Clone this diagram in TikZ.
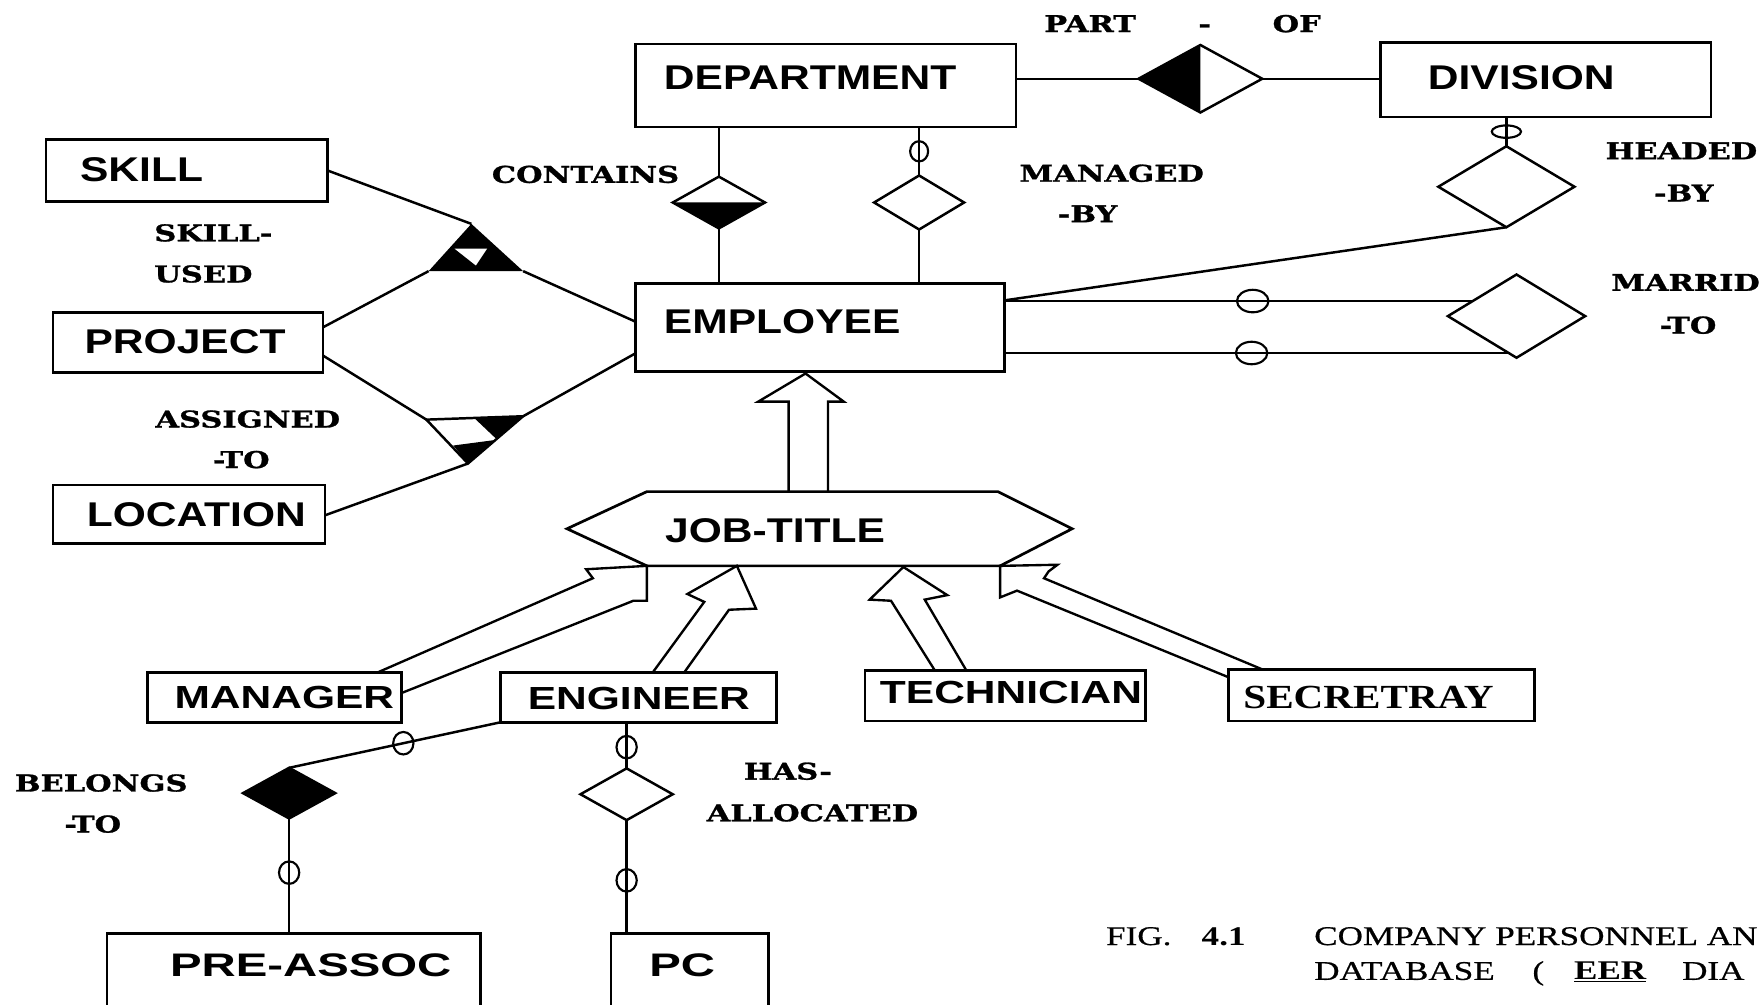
\documentclass[tikz,border=0pt]{standalone}
\usepackage{fontspec}
\usetikzlibrary{shapes.geometric,calc}
\newfontfamily\entfont[FakeStretch=1.24]{Liberation Sans Bold}
\newfontfamily\subfont[FakeStretch=1.33]{Liberation Sans Bold}
\newfontfamily\bigsubfont[FakeStretch=1.45]{Liberation Sans Bold}
\newfontfamily\lblfont[FakeStretch=1.32,FakeBold=1.2]{DejaVu Serif Bold}
\newfontfamily\secfont[FakeStretch=1.22]{Liberation Serif Bold}
\newfontfamily\capfont[FakeStretch=1.3,FakeBold=0.6]{Liberation Serif}
\newfontfamily\capbfont[FakeStretch=1.3]{Liberation Serif Bold}
\newcommand\entbox[5]{\node[ent, minimum width={(#4-#2)*1pt}, minimum height={(#5-#3)*1pt}] (#1) at ({(#2+#4)/2},{(#3+#5)/2}) {};}
\tikzset{
 ent/.style={draw, line width=2.4pt, rectangle, inner sep=0pt, outer sep=0pt},
 rel/.style={draw, line width=2.2pt, diamond, inner sep=0pt, outer sep=0pt},
 conn/.style={line width=2.2pt},
 opt/.style={line width=1.9pt},
 isa/.style={line width=2.1pt, line join=miter},
 etxt/.style={inner sep=0pt, anchor=base west, font=\entfont\fontsize{30.5}{30.5}\selectfont},
 stxt/.style={inner sep=0pt, anchor=base west, font=\subfont\fontsize{28.4}{28.4}\selectfont},
 btxt/.style={inner sep=0pt, anchor=base west, font=\bigsubfont\fontsize{29}{29}\selectfont},
 sectxt/.style={inner sep=0pt, anchor=base west, font=\secfont\fontsize{30}{30}\selectfont},
 ltxt/.style={inner sep=0pt, anchor=base west, font=\lblfont\fontsize{20.5}{20.5}\selectfont},
 ctxt/.style={inner sep=0pt, anchor=base west, font=\capfont\fontsize{24}{24}\selectfont},
 cbtxt/.style={inner sep=0pt, anchor=base west, font=\capbfont\fontsize{24}{24}\selectfont},
}
\begin{document}
\begin{tikzpicture}[x=1pt,y=-1pt]
\fill[white] (0,0) rectangle (1568,893);
\useasboundingbox (0,0) rectangle (1568,893);

% ---------- entities ----------
\entbox{dept}{565}{39}{903}{113}
\entbox{div}{1227}{38}{1521}{104}
\entbox{skill}{41}{124}{291}{179}
\entbox{proj}{47}{278}{287}{331}
\entbox{loc}{47}{431}{289}{483}
\entbox{emp}{565}{252}{893}{330}
\entbox{mgr}{131}{598}{357}{642}
\entbox{eng}{445}{598}{690}{642}
\entbox{tech}{769}{596}{1018}{641}
\entbox{sec}{1092}{595}{1364}{641}
\entbox{pre}{95}{830}{427}{905}
\entbox{pc}{543}{830}{683}{905}

\node[etxt] (deptT) at (590,80) {DEPARTMENT};
\node[etxt] (divT) at (1269,80) {DIVISION};
\node[etxt] (skillT) at (71,161.5) {SKILL};
\node[etxt] (projT) at (75,314) {PROJECT};
\node[etxt] (locT) at (77,468) {LOCATION};
\node[etxt] (empT) at (590,296) {EMPLOYEE};
\node[stxt] (mgrT) at (155,630) {MANAGER};
\node[stxt] (engT) at (469,631) {ENGINEER};
\node[stxt] (techT) at (782,625) {TECHNICIAN};
\node[sectxt] (secT) at (1105,629.5) {SECRETRAY};
\node[btxt] (preT) at (151,868) {PRE-ASSOC};
\node[btxt] (pcT) at (577,868) {PC};

% ---------- JOB-TITLE hexagon ----------
\coordinate (jtL) at (504,470);
\coordinate (jtTL) at (575,437);
\coordinate (jtTR) at (887,437);
\coordinate (jtR) at (953,470);
\coordinate (jtBR) at (889,503);
\coordinate (jtBL) at (575,503);
\draw[line width=2.4pt, line join=miter] (jtL) -- (jtTL) -- (jtTR) -- (jtR) -- (jtBR) -- (jtBL) -- cycle;
\node[etxt] (jtT) at (591,482) {JOB-TITLE};

% ---------- relationship diamonds ----------
\node[rel, minimum width=110pt, minimum height=60pt] (po) at (1067,70) {};
\fill (po.north) -- (po.west) -- (po.south) -- cycle;
\node[rel, minimum width=82pt, minimum height=46pt] (con) at (639,180) {};
\fill (con.west) -- (con.east) -- (con.south) -- cycle;
\node[rel, minimum width=80pt, minimum height=48pt] (mb) at (817,180) {};
\node[rel, minimum width=121pt, minimum height=72pt] (hb) at (1339,166) {};
\node[rel, minimum width=122pt, minimum height=74pt] (mt) at (1348,281) {};
\node[rel, fill=black, minimum width=82pt, minimum height=45pt] (bt) at (257,705) {};
\node[rel, minimum width=82pt, minimum height=46pt] (ha) at (557,706) {};

% ---------- connectors ----------
\draw[conn] (po.west) -- (po.west -| dept.east);
\draw[conn] (po.east) -- (po.east -| div.west);
\draw[conn] (con.north) -- (con.north |- dept.south);
\draw[conn] (con.south) -- (con.south |- emp.north);
\draw[conn] (mb.north) -- coordinate[pos=0.5] (mbO) (mb.north |- dept.south);
\draw[opt] (mbO) ellipse [x radius=8, y radius=9];
\draw[conn] (mb.south) -- (mb.south |- emp.north);
\draw[conn] (hb.north) -- coordinate[pos=0.5] (hbO) (hb.north |- div.south);
\draw[opt] (hbO) ellipse [x radius=13, y radius=5.5];
\coordinate (empR1) at ($(emp.north east)+(0,15)$);
\draw[conn] (hb.south) -- (empR1);
\draw[conn] (mt.161) -- coordinate[pos=0.47] (mtO1) (mt.161 -| emp.east);
\draw[conn] (mt.258) -- coordinate[pos=0.51] (mtO2) (mt.258 -| emp.east);
\draw[opt] (mtO1) ellipse [x radius=14, y radius=10];
\draw[opt] (mtO2) ellipse [x radius=14, y radius=10];

% SKILL-USED (ternary)
\coordinate (suT) at (419,199);
\coordinate (suL) at (381,241);
\coordinate (suR) at (465,241);
\coordinate (suA) at (404,221);
\coordinate (suB) at (433,221);
\coordinate (suC) at (423,236);
\fill (suT) -- (suL) -- (suR) -- cycle;
\fill[white] (suA) -- (suB) -- (suC) -- cycle;
\draw[conn] (skill.east) -- (suT);
\draw[conn] ($(proj.north east)+(0,13)$) -- (suL);
\draw[conn] (suR) -- ($(emp.west)+(0,-5)$);

% ASSIGNED-TO (ternary)
\coordinate (atL) at (379,373);
\coordinate (atR) at (465,370);
\coordinate (atB) at (416,412);
\coordinate (atP) at (422,372);
\coordinate (atQ) at (441,390);
\coordinate (atS) at (403,396);
\coordinate (atU) at (441,391);
\fill (atP) -- (atR) -- (atQ) -- cycle;
\fill (atS) -- (atU) -- (atB) -- cycle;
\draw[conn, line join=miter] (atL) -- (atR) -- (atB) -- cycle;
\draw[conn] ($(proj.south east)+(0,-15)$) -- (atL);
\draw[conn] (atB) -- ($(loc.east)+(0,1)$);
\draw[conn] (atR) -- ($(emp.south west)+(0,-16)$);

% BELONGS-TO and HAS-ALLOCATED
\draw[conn] (eng.south west) -- coordinate[pos=0.46] (btO1) (bt.north);
\draw[opt] (btO1) ellipse [x radius=9, y radius=10];
\draw[conn] (bt.south) -- coordinate[pos=0.47] (btO2) (bt.south |- pre.north);
\draw[opt] (btO2) ellipse [x radius=9, y radius=10];
\draw[conn] (ha.north) -- coordinate[pos=0.46] (haO1) (ha.north |- eng.south);
\draw[opt] (haO1) ellipse [x radius=9, y radius=10];
\draw[conn] (ha.south) -- coordinate[pos=0.53] (haO2) (ha.south |- pc.north);
\draw[opt] (haO2) ellipse [x radius=9, y radius=10];

% ---------- ISA block arrows ----------
\coordinate (upT) at ($(emp.south)+(-13,2)$);
\draw[isa] ($(upT)+(-15,105)$) -- ($(upT)+(-15,25)$) -- ($(upT)+(-42,25)$) -- (upT)
  -- ($(upT)+(34,25)$) -- ($(upT)+(20,25)$) -- ($(upT)+(20,105)$);

\draw[isa] ($(mgr.north east)+(-22,0)$) -- ($(jtBL)+(-48,11)$) -- ($(jtBL)+(-54,3)$) -- (jtBL)
  -- ($(jtBL)+(0,31)$) -- ($(jtBL)+(-12,31)$) -- ($(mgr.north east)+(0,18)$);

\coordinate (tipEng) at ($(jtBL)+(80,0)$);
\draw[isa] ($(eng.north west)+(135,0)$) -- ($(tipEng)+(-29,32)$) -- ($(tipEng)+(-44,25)$) -- (tipEng)
  -- ($(tipEng)+(17,38)$) -- ($(tipEng)+(-7,39)$) -- ($(eng.north west)+(163,0)$);

\coordinate (tipTech) at ($(jtBR)+(-86,1)$);
\draw[isa] ($(tech.north west)+(62,0)$) -- ($(tipTech)+(-11,30)$) -- ($(tipTech)+(-30,29)$) -- (tipTech)
  -- ($(tipTech)+(39,25)$) -- ($(tipTech)+(19,29)$) -- ($(tech.north west)+(90,0)$);

\draw[isa] ($(sec.north west)+(30,0)$) -- ($(jtBR)+(39,11)$) -- ($(jtBR)+(43,5)$) -- ($(jtBR)+(51,-1)$) -- (jtBR)
  -- ($(jtBR)+(0,28)$) -- ($(jtBR)+(15,22)$) -- ($(sec.north west)+(0,7)$);

% ---------- relationship labels ----------
\node[ltxt] (lPart) at (928,28.5) {PART};
\node[ltxt] (lDash) at (1065,28.5) {-};
\node[ltxt] (lOf) at (1131,28.5) {OF};
\node[ltxt] (lCon) at (437,162.5) {CONTAINS};
\node[ltxt] (lMan1) at (906,161.5) {MANAGED};
\node[ltxt] (lMan2) at (940,197.5) {-BY};
\node[ltxt] (lHead1) at (1427,141.5) {HEADED};
\node[ltxt] (lHead2) at (1470,179) {-BY};
\node[ltxt] (lMar1) at (1432,258.5) {MARRID};
\node[ltxt] (lMar2) at (1475,296.5) {-TO};
\node[ltxt] (lSk1) at (137,214.5) {SKILL-};
\node[ltxt] (lSk2) at (137,251) {USED};
\node[ltxt] (lAs1) at (138,380) {ASSIGNED};
\node[ltxt] (lAs2) at (189,416) {-TO};
\node[ltxt] (lBel1) at (13,703.5) {BELONGS};
\node[ltxt] (lBel2) at (57,740) {-TO};
\node[ltxt] (lHas1) at (661,693) {HAS-};
\node[ltxt] (lHas2) at (628,730) {ALLOCATED};

% ---------- caption ----------
\node[ctxt] (fig) at (983,840) {FIG.};
\node[cbtxt] (fignum) at (1068,840) {4.1};
\node[ctxt] (cap1) at (1168,840) {COMPANY PERSONNEL AN};
\node[ctxt] (cap2) at (1168,871) {DATABASE};
\node[ctxt] (cap3) at (1362,871) {(};
\node[cbtxt] (cap4) at (1399,871) {\underline{EER}};
\node[ctxt] (cap5) at (1495,871) {DIA};
\end{tikzpicture}
\end{document}
